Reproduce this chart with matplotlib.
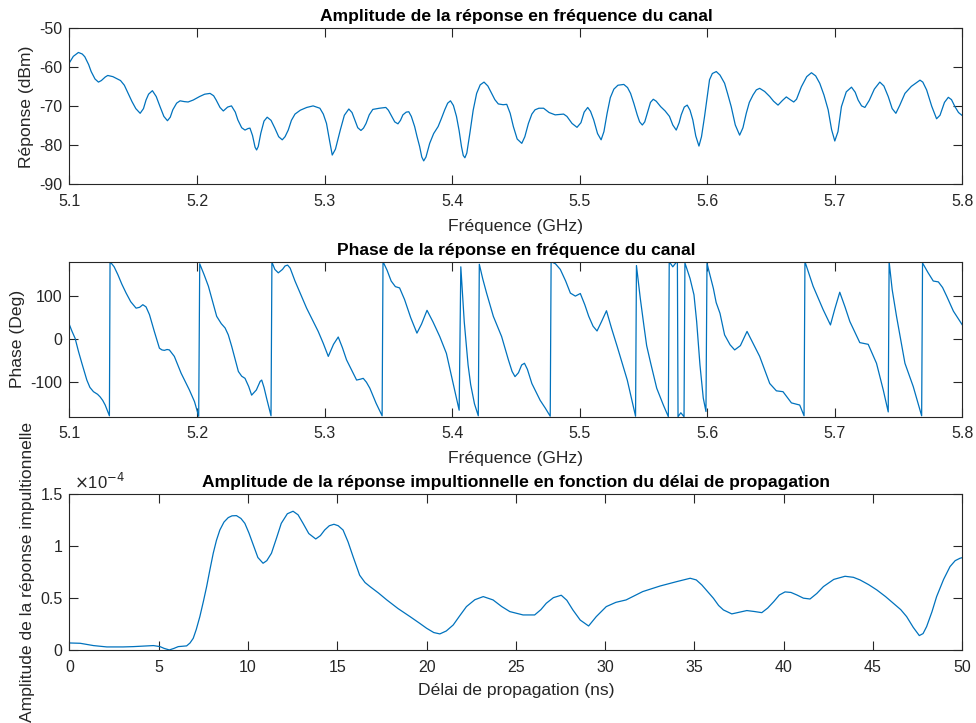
import numpy as np
import matplotlib
matplotlib.use("Agg")
import matplotlib.pyplot as plt

plt.rcParams['font.family'] = ['Liberation Sans', 'DejaVu Sans']
plt.rcParams['axes.unicode_minus'] = False

# amplitude of the channel frequency response (GHz, dBm)
freq_amp = [5.100, 5.103, 5.107, 5.110, 5.112, 5.115, 5.117, 5.120, 5.1227, 5.125,
            5.128, 5.130, 5.134, 5.137, 5.140, 5.143, 5.146, 5.149, 5.152, 5.1554,
            5.158, 5.160, 5.162, 5.165, 5.168, 5.171, 5.174, 5.1768, 5.179, 5.181,
            5.184, 5.1867, 5.190, 5.193, 5.197, 5.202, 5.206, 5.2102, 5.213, 5.215,
            5.218, 5.2206, 5.224, 5.227, 5.230, 5.232, 5.235, 5.2376, 5.240, 5.2415,
            5.2435, 5.2455, 5.2467, 5.248, 5.250, 5.2525, 5.255, 5.258, 5.261, 5.264,
            5.2668, 5.269, 5.2715, 5.274, 5.2768, 5.281, 5.286, 5.291, 5.2963, 5.299,
            5.3015, 5.304, 5.306, 5.3085, 5.3123, 5.3155, 5.319, 5.3215, 5.3237, 5.326,
            5.3285, 5.3305, 5.3325, 5.335, 5.3378, 5.343, 5.348, 5.350, 5.352, 5.355,
            5.3575, 5.3595, 5.3614, 5.364, 5.366, 5.368, 5.3706, 5.3725, 5.3745, 5.3762,
            5.3777, 5.3795, 5.3824, 5.3855, 5.389, 5.3915, 5.3942, 5.3965, 5.3987, 5.401,
            5.4034, 5.4055, 5.4073, 5.4087, 5.410, 5.4115, 5.4139, 5.4165, 5.4192, 5.422,
            5.425, 5.428, 5.431, 5.4335, 5.4362, 5.440, 5.4428, 5.4455, 5.448, 5.451,
            5.4546, 5.457, 5.4598, 5.4625, 5.465, 5.468, 5.4717, 5.476, 5.4808, 5.4874,
            5.490, 5.494, 5.4979, 5.501, 5.5035, 5.5063, 5.5085, 5.511, 5.514, 5.5168,
            5.519, 5.5215, 5.524, 5.5268, 5.530, 5.5346, 5.5375, 5.5399, 5.5425, 5.5451,
            5.547, 5.5491, 5.551, 5.5535, 5.5555, 5.5577, 5.560, 5.5635, 5.567, 5.5704,
            5.573, 5.5757, 5.578, 5.5796, 5.582, 5.5843, 5.5865, 5.5887, 5.591, 5.5935,
            5.5955, 5.5979, 5.600, 5.6018, 5.604, 5.6071, 5.610, 5.6136, 5.616, 5.6188,
            5.622, 5.6254, 5.628, 5.6306, 5.633, 5.6359, 5.6385, 5.6411, 5.645, 5.649,
            5.652, 5.6555, 5.659, 5.662, 5.665, 5.6678, 5.670, 5.6738, 5.678, 5.6817,
            5.685, 5.6882, 5.6915, 5.6948, 5.6975, 5.700, 5.7025, 5.7052, 5.709, 5.7131,
            5.716, 5.7183, 5.721, 5.7236, 5.727, 5.731, 5.7353, 5.7385, 5.7419, 5.745,
            5.7479, 5.751, 5.755, 5.760, 5.7668, 5.769, 5.772, 5.776, 5.7798, 5.7825,
            5.786, 5.789, 5.7915, 5.7942, 5.797, 5.800]
amp_db = [-58.8, -57.2, -56.2, -56.6, -57.3, -59.3, -61.1, -63.0, -63.8, -63.4,
          -62.5, -62.1, -62.4, -62.9, -63.4, -64.6, -66.7, -68.8, -70.6, -71.8,
          -70.6, -68.4, -66.9, -66.0, -67.5, -70.1, -72.6, -73.7, -72.8, -70.9,
          -69.2, -68.6, -68.8, -68.9, -68.4, -67.5, -66.9, -66.7, -67.3, -68.4,
          -70.3, -71.2, -70.2, -69.9, -71.5, -73.5, -75.5, -76.1, -75.7, -75.6,
          -77.5, -80.5, -81.2, -80.3, -76.9, -73.8, -72.8, -73.6, -75.6, -77.8,
          -78.6, -77.8, -76.1, -73.6, -72.0, -71.0, -70.3, -69.9, -70.5, -72.0,
          -74.4, -79.0, -82.5, -81.0, -76.1, -72.3, -70.7, -71.6, -73.5, -75.5,
          -76.2, -75.6, -74.4, -72.2, -70.8, -70.5, -70.3, -71.0, -72.2, -74.0,
          -74.5, -73.6, -72.2, -71.5, -71.4, -72.6, -75.2, -77.8, -80.3, -83.0,
          -84.0, -83.0, -79.5, -77.0, -75.2, -73.2, -70.9, -69.2, -68.6, -69.8,
          -72.6, -76.3, -80.3, -82.6, -83.2, -82.0, -76.9, -71.0, -66.7, -64.5,
          -63.8, -64.8, -66.7, -68.3, -69.4, -69.6, -69.5, -71.8, -75.2, -78.4,
          -79.5, -77.8, -74.4, -72.0, -70.9, -70.5, -70.5, -71.6, -72.2, -72.0,
          -72.6, -74.4, -75.4, -74.2, -71.5, -70.3, -71.3, -73.5, -77.0, -78.6,
          -76.5, -71.8, -67.8, -65.6, -64.6, -64.4, -65.2, -66.7, -69.3, -72.2,
          -74.0, -74.8, -74.0, -71.2, -69.0, -68.2, -68.7, -70.1, -71.2, -72.6,
          -74.8, -76.1, -74.2, -72.2, -70.2, -69.7, -71.0, -73.5, -77.6, -80.2,
          -77.8, -72.6, -67.5, -63.2, -61.6, -61.1, -62.0, -64.1, -66.8, -70.1,
          -74.8, -77.4, -75.5, -71.8, -69.0, -67.1, -65.8, -65.4, -66.2, -67.5,
          -68.7, -69.7, -68.5, -67.6, -68.3, -68.9, -68.2, -65.0, -62.4, -61.4,
          -62.2, -64.1, -67.1, -70.9, -76.0, -78.9, -76.5, -70.1, -66.3, -65.1,
          -66.4, -68.4, -69.9, -70.3, -68.5, -65.6, -63.8, -64.8, -67.5, -70.6,
          -71.8, -69.7, -66.7, -64.9, -63.3, -63.8, -65.8, -70.0, -73.2, -72.3,
          -69.0, -67.7, -68.3, -70.1, -71.6, -72.4]

# wrapped phase of the channel frequency response (GHz, degrees)
freq_phase = [5.1, 5.102, 5.1044, 5.107, 5.1097, 5.1136, 5.116, 5.1188, 5.122, 5.124,
              5.126, 5.128, 5.1313,
              5.1318, 5.135, 5.1379, 5.141, 5.1444, 5.148, 5.1522, 5.155, 5.1575, 5.160,
              5.1627, 5.1665, 5.1705, 5.1725, 5.1744, 5.1765, 5.1783, 5.1822, 5.1875, 5.194,
              5.198, 5.2013,
              5.2021, 5.2055, 5.2089, 5.2154, 5.219, 5.222, 5.2245, 5.2272, 5.2324, 5.235,
              5.2376, 5.2405, 5.2428, 5.2465, 5.2495, 5.2507, 5.2525, 5.2546, 5.258,
              5.2587, 5.261, 5.2637, 5.267, 5.269, 5.271, 5.273, 5.2768, 5.2859, 5.295,
              5.299, 5.3029, 5.307, 5.3107, 5.314, 5.3172, 5.3251, 5.328, 5.3303, 5.3328,
              5.3355, 5.3404, 5.3451,
              5.3458, 5.349, 5.3522, 5.3555, 5.3588, 5.3627, 5.3675, 5.3724, 5.376, 5.3803,
              5.385, 5.3903, 5.3955, 5.4008, 5.4055,
              5.4068, 5.4095, 5.4125, 5.4145, 5.4175, 5.4205,
              5.4213, 5.424, 5.427, 5.4323, 5.4388, 5.4441, 5.447, 5.4493, 5.452, 5.4545,
              5.4567, 5.459, 5.4625, 5.469, 5.473, 5.4769,
              5.4776, 5.481, 5.4848, 5.489, 5.4927, 5.4966, 5.5005, 5.504, 5.5071, 5.5105,
              5.5136, 5.517, 5.521, 5.525, 5.5294, 5.5373, 5.5438,
              5.5445, 5.5475, 5.5504, 5.5525, 5.5556, 5.5604, 5.5656, 5.5695,
              5.5702, 5.573, 5.5756, 5.5766,
              5.5771, 5.5793, 5.5813, 5.5818,
              5.5825, 5.5865, 5.5896, 5.5917, 5.5943, 5.5969, 5.599,
              5.5998, 5.6025, 5.6048, 5.607, 5.610, 5.6136, 5.6179, 5.6215, 5.626, 5.6312,
              5.636, 5.6411, 5.649, 5.6542, 5.6594, 5.666, 5.6699, 5.6725, 5.6759,
              5.6766, 5.683, 5.6908, 5.6966, 5.700, 5.7039, 5.708, 5.7118, 5.7196, 5.7262,
              5.7327, 5.738, 5.7419,
              5.7426, 5.745, 5.7484, 5.755, 5.7615, 5.7681,
              5.7688, 5.773, 5.7772, 5.7812, 5.7845, 5.7877, 5.793, 5.8]
phase_deg = [33, 18, 2, -28, -56, -95, -112, -122, -128, -134,
             -142, -153, -178,
             180, 168, 150, 128, 107, 87, 72, 74, 80, 75,
             57, 18, -21, -25, -26, -24, -25, -40, -79, -118,
             -145, -179,
             175, 150, 123, 53, 36, 26, 10, -17, -75, -86,
             -91, -110, -130, -118, -98, -95, -112, -138, -178,
             179, 162, 154, 162, 170, 172, 165, 135, 72, 18,
             -10, -40, -12, 5, -20, -48, -95, -93, -91, -100,
             -114, -149, -178,
             180, 160, 135, 122, 119, 92, 50, 14, 35, 67,
             40, 6, -33, -103, -165,
             168, 40, -60, -105, -150, -178,
             174, 140, 107, 53, 6, -48, -75, -87, -78, -60,
             -56, -70, -103, -142, -160, -179,
             180, 175, 162, 135, 107, 100, 106, 80, 53, 30,
             19, 40, 66, 25, -17, -95, -179,
             171, 95, 30, -15, -55, -114, -153, -180,
             180, 168, 178, 180,
             -180, -171, -178, -180,
             177, 141, 103, 41, -60, -137, -168,
             176, 145, 118, 85, 60, 10, -13, -25, -15, 18,
             -10, -40, -103, -120, -122, -148, -151, -153, -178,
             180, 123, 69, 33, 70, 109, 75, 41, -8, -12,
             -56, -118, -169,
             180, 115, 53, -56, -110, -178,
             177, 155, 135, 133, 120, 100, 65, 33]

# impulse response amplitude vs propagation delay (ns, in units of 1e-4)
delay_ns = [0, 0.6, 1.0, 1.34, 2.09, 3.0, 3.58, 4.2, 4.7, 5.07,
            5.3, 5.59, 5.85, 6.09, 6.56, 6.75, 6.93, 7.1, 7.3, 7.5,
            7.68, 7.86, 8.05, 8.23, 8.42, 8.65, 8.89, 9.1, 9.35, 9.6,
            9.82, 10.05, 10.29, 10.55, 10.84, 11.05, 11.31, 11.6, 11.86, 12.2,
            12.52, 12.8, 13.08, 13.4, 13.79, 14.05, 14.29, 14.55, 14.81, 15.05,
            15.32, 15.6, 15.88, 16.25, 16.55, 16.83, 17.3, 17.77, 18.4, 19.07,
            19.6, 20.0, 20.4, 20.74, 21.1, 21.49, 21.85, 22.23, 22.7, 23.17,
            23.72, 24.2, 24.66, 25.4, 26.05, 26.4, 26.7, 27.1, 27.54, 27.85,
            28.19, 28.6, 29.07, 29.5, 30.06, 30.6, 31.17, 32.1, 33.08, 34.01,
            34.76, 35.1, 35.41, 35.75, 36.06, 36.35, 36.62, 37.09, 37.5, 37.93,
            38.35, 38.77, 39.1, 39.44, 39.75, 40.07, 40.4, 40.73, 41.1, 41.47,
            41.85, 42.22, 42.8, 43.43, 43.9, 44.27, 44.75, 45.21, 45.7, 46.14,
            46.55, 46.88, 47.25, 47.59, 47.8, 48.0, 48.3, 48.56, 48.95, 49.31,
            49.6, 49.87, 50]
impulse_e4 = [0.070, 0.067, 0.055, 0.045, 0.032, 0.032, 0.035, 0.040, 0.045, 0.035,
              0.018, 0.003, 0.018, 0.035, 0.042, 0.070, 0.115, 0.200, 0.323, 0.470,
              0.611, 0.770, 0.931, 1.055, 1.154, 1.230, 1.273, 1.290, 1.292, 1.265,
              1.218, 1.125, 1.011, 0.890, 0.835, 0.860, 0.931, 1.080, 1.218, 1.310,
              1.334, 1.300, 1.218, 1.120, 1.068, 1.100, 1.154, 1.195, 1.209, 1.195,
              1.154, 1.040, 0.899, 0.720, 0.650, 0.611, 0.550, 0.483, 0.400, 0.323,
              0.260, 0.211, 0.170, 0.157, 0.185, 0.243, 0.330, 0.419, 0.485, 0.515,
              0.483, 0.420, 0.371, 0.339, 0.339, 0.390, 0.451, 0.505, 0.528, 0.480,
              0.387, 0.290, 0.233, 0.323, 0.419, 0.460, 0.483, 0.563, 0.617, 0.659,
              0.691, 0.675, 0.627, 0.560, 0.499, 0.430, 0.387, 0.349, 0.365, 0.381,
              0.372, 0.361, 0.405, 0.467, 0.530, 0.560, 0.555, 0.531, 0.500, 0.492,
              0.545, 0.611, 0.680, 0.710, 0.700, 0.675, 0.630, 0.579, 0.515, 0.451,
              0.390, 0.323, 0.220, 0.141, 0.160, 0.227, 0.370, 0.515, 0.680, 0.803,
              0.860, 0.883, 0.889]

LINE = '#0072BD'
GREY = '#262626'
FS_TICK = 11.5
FS_LABEL = 12.6

freq_ticks = [5.1, 5.2, 5.3, 5.4, 5.5, 5.6, 5.7, 5.8]


def style(ax):
    for s in ax.spines.values():
        s.set_color(GREY)
        s.set_linewidth(0.8)
    ax.tick_params(direction='in', length=6.5, width=0.8, colors=GREY,
                   top=True, right=True, labelsize=FS_TICK, pad=5)
    ax.tick_params(axis='x', pad=7)


fig = plt.figure(figsize=(9.76, 7.23), dpi=100)
ax1 = fig.add_axes([0.0712, 0.7451, 0.9148, 0.2158])
ax2 = fig.add_axes([0.0712, 0.4237, 0.9148, 0.2144])
ax3 = fig.add_axes([0.0712, 0.1006, 0.9148, 0.2162])

ax1.plot(freq_amp, amp_db, color=LINE, lw=0.9)
ax1.set_xlim(5.1, 5.8)
ax1.set_ylim(-90, -50)
ax1.set_xticks(freq_ticks)
ax1.set_xticklabels([f'{t:g}' for t in freq_ticks])
ax1.set_yticks([-90, -80, -70, -60, -50])
ax1.set_title('Amplitude de la réponse en fréquence du canal', fontsize=FS_LABEL,
              fontweight='bold', pad=5)
ax1.set_xlabel('Fréquence (GHz)', fontsize=FS_LABEL, color=GREY, labelpad=7)
ax1.set_ylabel('Réponse (dBm)', fontsize=FS_LABEL, color=GREY, labelpad=4)
style(ax1)

ax2.plot(freq_phase, phase_deg, color=LINE, lw=0.9)
ax2.set_xlim(5.1, 5.8)
ax2.set_ylim(-180, 180)
ax2.set_xticks(freq_ticks)
ax2.set_xticklabels([f'{t:g}' for t in freq_ticks])
ax2.set_yticks([-100, 0, 100])
ax2.set_title('Phase de la réponse en fréquence du canal', fontsize=FS_LABEL,
              fontweight='bold', pad=5)
ax2.set_xlabel('Fréquence (GHz)', fontsize=FS_LABEL, color=GREY, labelpad=7)
ax2.set_ylabel('Phase (Deg)', fontsize=FS_LABEL, color=GREY, labelpad=4)
style(ax2)

ax3.plot(delay_ns, impulse_e4, color=LINE, lw=0.9)
ax3.set_xlim(0, 50)
ax3.set_ylim(0, 1.5)
ax3.set_xticks(range(0, 51, 5))
ax3.set_yticks([0, 0.5, 1, 1.5])
ax3.set_yticklabels(['0', '0.5', '1', '1.5'])
ax3.set_title('Amplitude de la réponse impultionnelle en fonction du délai de propagation',
              fontsize=FS_LABEL, fontweight='bold', pad=5)
ax3.set_xlabel('Délai de propagation (ns)', fontsize=FS_LABEL, color=GREY, labelpad=6)
ax3.set_ylabel('Amplitude de la réponse impultionnelle', fontsize=FS_LABEL,
               color=GREY, labelpad=4)
ax3.text(0.005, 1.012, r'$\times$10$^{-4}$', transform=ax3.transAxes,
         ha='left', va='bottom', fontsize=FS_TICK + 0.5, color=GREY)
style(ax3)

fig.savefig('out.png', dpi=100, facecolor='white')
